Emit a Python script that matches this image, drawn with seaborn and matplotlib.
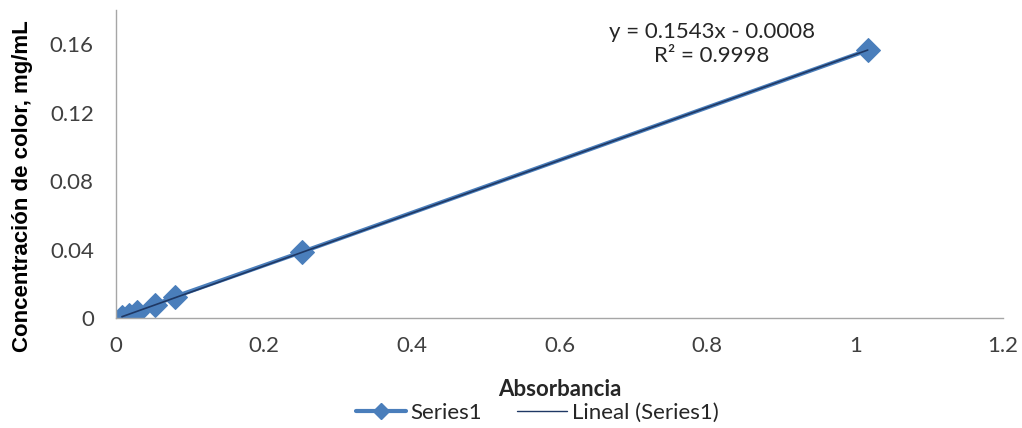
import numpy as np
import pandas as pd
import seaborn as sns
import matplotlib
matplotlib.use("Agg")
import matplotlib.pyplot as plt
from matplotlib.lines import Line2D

absorbancia = [0.008, 0.018, 0.028, 0.053, 0.080, 0.251, 1.017]
concentracion = [0.0005, 0.002, 0.0035, 0.0078, 0.0125, 0.0385, 0.1565]
x_ticks = [0, 0.2, 0.4, 0.6, 0.8, 1, 1.2]
x_tick_labels = ["0", "0.2", "0.4", "0.6", "0.8", "1", "1.2"]
y_ticks = [0, 0.04, 0.08, 0.12, 0.16]
y_tick_labels = ["0", "0.04", "0.08", "0.12", "0.16"]
equation_text = "y = 0.1543x - 0.0008\nR² = 0.9998"

df = pd.DataFrame({"Absorbancia": absorbancia, "Concentracion": concentracion})

sns.set_theme(style="white")
plt.rcParams["font.family"] = ["Lato", "DejaVu Sans"]

fig = plt.figure(figsize=(10.22, 4.28), dpi=100)
ax = fig.add_axes([116 / 1022, 1 - 318 / 428, (1003 - 116) / 1022, (318 - 10) / 428])

series_color = "#4A7EBB"
trend_color = "#1F3864"

sns.lineplot(data=df, x="Absorbancia", y="Concentracion", ax=ax, color=series_color,
             linewidth=3.0, marker="D", markersize=12, markeredgecolor=series_color,
             markerfacecolor=series_color, zorder=2)
sns.regplot(data=df, x="Absorbancia", y="Concentracion", ax=ax, scatter=False, ci=None,
            line_kws=dict(color=trend_color, linewidth=1.2, zorder=3))

ax.set_xlim(0, 1.2)
ax.set_ylim(0, 0.18)
ax.set_xticks(x_ticks)
ax.set_xticklabels(x_tick_labels)
ax.set_yticks(y_ticks)
ax.set_yticklabels(y_tick_labels)
ax.tick_params(axis="both", labelsize=16, length=0)
ax.tick_params(axis="x", pad=13)
ax.tick_params(axis="y", pad=16)
for lab in ax.get_xticklabels() + ax.get_yticklabels():
    lab.set_color("#404040")

for side in ["top", "right"]:
    ax.spines[side].set_visible(False)
for side in ["left", "bottom"]:
    ax.spines[side].set_color("#A6A6A6")
    ax.spines[side].set_linewidth(1.0)

ax.set_xlabel("Absorbancia", fontsize=16, fontweight="bold", color="#262626")
ax.xaxis.set_label_coords(0.5, -(379 - 318) / 308)
ax.set_ylabel("Concentración de color, mg/mL", fontsize=16, fontweight="bold",
              color="#000000", family=["Liberation Sans", "DejaVu Sans"])
ax.yaxis.set_label_coords(-(116 - 33) / 887, (318 - 186) / 308)

ax.text(0.806, 0.1600, equation_text, ha="center", va="center", fontsize=16,
        color="#262626", linespacing=1.25)

handles = [
    Line2D([], [], color=series_color, linewidth=3.0, marker="D", markersize=8),
    Line2D([], [], color=trend_color, linewidth=1.0),
]
fig.legend(handles, ["Series1", "Lineal (Series1)"], loc="center",
           bbox_to_anchor=(537 / 1022, 1 - 413 / 428), ncol=2, frameon=False,
           fontsize=16, handlelength=2.25, columnspacing=1.6, handletextpad=0.2,
           labelcolor="#262626", borderpad=0.2)

fig.savefig("out.png", dpi=100, facecolor="white")
